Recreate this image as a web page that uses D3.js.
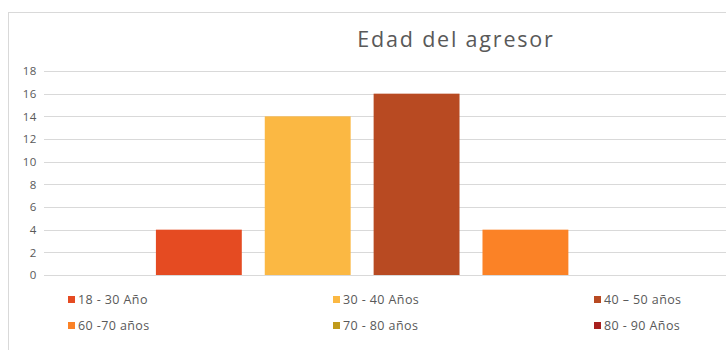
<!DOCTYPE html>
<html><head><meta charset="utf-8">
<script src="https://cdn.jsdelivr.net/npm/d3@7"></script>
<style>html,body{margin:0;padding:0;background:#fff;overflow:hidden}</style>
</head><body>
<svg id="c" width="726" height="350"></svg>
<script>
const title = "Edad del agresor";
const series = ["18 - 30 Año", "30 - 40 Años", "40 – 50 años", "60 -70 años", "70 - 80 años", "80 - 90 Años"];
const values = [4, 14, 16, 4, 0, 0];
const colors = ["#E54B22", "#FBB843", "#B84A22", "#FB8226", "#C09A1A", "#A8201E"];
const yTicks = [0, 2, 4, 6, 8, 10, 12, 14, 16, 18];

const svg = d3.select("#c");
const font = "'Open Sans', 'Liberation Sans', sans-serif";
const textCol = "#595959";

// chart border
svg.append("rect").attr("x", 8.5).attr("y", 12.5).attr("width", 900).attr("height", 400)
  .attr("fill", "#fff").attr("stroke", "#d9d9d9");

const plotL = 44, plotR = 898;
const y = d3.scaleLinear().domain([0, 18]).range([275, 71]);
const x = d3.scaleBand().domain(series).range([plotL, plotR]).paddingInner(0.211).paddingOuter(1.028);

// gridlines
svg.append("g").selectAll("line").data(yTicks).join("line")
  .attr("x1", plotL).attr("x2", plotR)
  .attr("y1", d => Math.round(y(d)) + 0.5).attr("y2", d => Math.round(y(d)) + 0.5)
  .attr("stroke", "#d9d9d9").attr("stroke-width", 1);

// y axis labels
const ax = svg.append("g").attr("transform", `translate(${plotL},0)`)
  .call(d3.axisLeft(y).tickValues(yTicks).tickSize(0).tickPadding(7));
ax.select(".domain").remove();
ax.selectAll("text").attr("fill", textCol).style("font-family", font).style("font-size", "11.5px")
  .style("letter-spacing", "0.6px");

// bars
svg.append("g").selectAll("rect").data(series).join("rect")
  .attr("x", d => x(d)).attr("width", x.bandwidth())
  .attr("y", (d, i) => y(values[i])).attr("height", (d, i) => y(0) - y(values[i]))
  .attr("fill", (d, i) => colors[i]);

// title
svg.append("text").attr("x", 456).attr("y", 47).attr("text-anchor", "middle")
  .attr("fill", textCol).style("font-family", font).style("font-size", "21.5px")
  .style("letter-spacing", "1.8px").text(title);

// legend
const colX = [68, 333, 594], rowY = [300, 326];
const lg = svg.append("g").selectAll("g").data(series).join("g")
  .attr("transform", (d, i) => `translate(${colX[i % 3]},${rowY[Math.floor(i / 3)]})`);
lg.append("rect").attr("x", 0).attr("y", -4).attr("width", 7).attr("height", 7)
  .attr("fill", (d, i) => colors[i]);
lg.append("text").attr("x", 10).attr("y", 0).attr("dy", "0.35em")
  .attr("fill", textCol).style("font-family", font).style("font-size", "12.5px")
  .style("letter-spacing", "0.4px").text(d => d);
</script>
</body></html>
